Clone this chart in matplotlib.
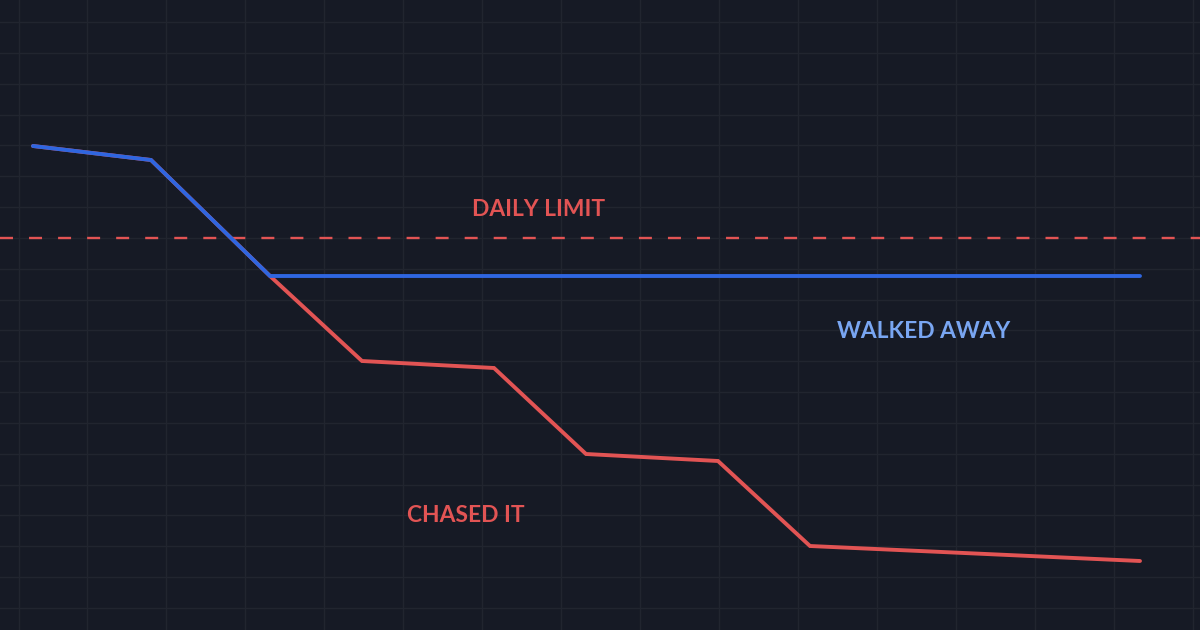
import numpy as np
from matplotlib import pyplot as plt

# session timeline (hours) and balance for the two paths
walkedX = [0.33, 1.51, 2.70, 11.40]
walkedY = [4.84, 4.70, 3.54, 3.54]
chasedX = [0.33, 1.51, 2.70, 3.62, 4.94, 5.86, 7.18, 8.10, 11.40]
chasedY = [4.84, 4.70, 3.54, 2.69, 2.62, 1.76, 1.69, 0.84, 0.69]
dailyLimit = 3.92

labelText = ['DAILY LIMIT', 'WALKED AWAY', 'CHASED IT']
labelX = [5.39, 9.24, 4.66]
labelY = [4.21, 2.99, 1.14]

bg = '#161a25'
red = '#e25454'
blue = '#2f66e0'
lightBlue = '#79a6f2'

plt.rcParams['font.family'] = ['Lato', 'DejaVu Sans']

fig = plt.figure(figsize=(12, 6.3), dpi=100, facecolor=bg)
ax = fig.add_axes([0, 0, 1, 1], facecolor=bg)
ax.set_xlim(0, 12)
ax.set_ylim(0, 6.3)

# background grid
vgrid = [0.19] + [0.87 + 0.79*k for k in range(15)]
hgrid = [6.08 - 0.3084*k for k in range(20)]
for gx in vgrid:
    ax.axvline(gx, color='#21252f', linewidth=1.0, zorder=0)
for gy in hgrid:
    ax.axhline(gy, color='#21252f', linewidth=1.0, zorder=0)

ax.axhline(dailyLimit, color=red, linewidth=1.7, linestyle=(0, (5.5, 6.8)), zorder=2)
ax.plot(chasedX, chasedY, color=red, linewidth=2.8, solid_capstyle='round', solid_joinstyle='miter', zorder=3)
ax.plot(walkedX, walkedY, color=blue, linewidth=2.8, solid_capstyle='round', solid_joinstyle='miter', zorder=4)

colors = [red, lightBlue, red]
for t, x, y, c in zip(labelText, labelX, labelY, colors):
    ax.text(x, y, t, color=c, fontsize=16.4, fontweight='bold', ha='center', va='center')

ax.set_axis_off()
fig.savefig('out.png', dpi=100, facecolor=bg)
